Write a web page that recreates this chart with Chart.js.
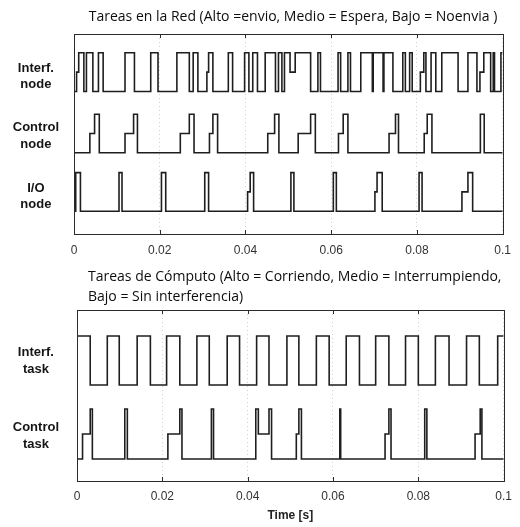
<!DOCTYPE html>
<html>
<head>
<meta charset="utf-8">
<script src="https://cdn.jsdelivr.net/npm/chart.js@4.4.1/dist/chart.umd.min.js"></script>
<style>
  body { margin: 0; background: #fff; width: 520px; height: 527px; position: relative; overflow: hidden; }
  canvas { position: absolute; left: 0; }
  #c1 { top: 0; }
  #c2 { top: 260px; }
  .titulo { position: absolute; font-family: "Open Sans", Lato, sans-serif; font-size: 14px; color: #0d0d0d; line-height: 20px; }
  #t1 { top: 6px; left: 74px; width: 438px; text-align: center; }
  #t2 { top: 266px; left: 88px; width: 430px; }
</style>
</head>
<body>
<canvas id="c1" width="520" height="260"></canvas>
<canvas id="c2" width="520" height="267"></canvas>
<div class="titulo" id="t1">Tareas en la Red (Alto =envio, Medio = Espera, Bajo = Noenvia )</div>
<div class="titulo" id="t2">Tareas de Cómputo (Alto = Corriendo, Medio = Interrumpiendo,<br>Bajo = Sin interferencia)</div>
<script>
// niveles: 0 = bajo, 1 = medio, 2 = alto ; tiempos en segundos (instante del cambio)
const redNombres = [['Interf.', 'node'], ['Control', 'node'], ['I/O', 'node']];
const cpuNombres = [['Interf.', 'task'], ['Control', 'task']];
const xTicks = [0, 0.02, 0.04, 0.06, 0.08, 0.1];

const interfNodeT = [0, 0.0006, 0.0011, 0.0023, 0.0029, 0.0044, 0.0057, 0.0068, 0.0119, 0.0141, 0.0179, 0.0196,
  0.0240, 0.0269, 0.0278, 0.0289, 0.0310, 0.0314, 0.0324, 0.0360, 0.0370, 0.0398, 0.0408, 0.0417, 0.0428,
  0.0446, 0.0470, 0.0477, 0.0485, 0.0491, 0.0504, 0.0516, 0.0552, 0.0569, 0.0575, 0.0616, 0.0622, 0.0639,
  0.0645, 0.0669, 0.0696, 0.0698, 0.0721, 0.0723, 0.0744, 0.0767, 0.0773, 0.0783, 0.0789, 0.0808, 0.0816,
  0.0821, 0.0833, 0.0844, 0.0858, 0.0896, 0.0919, 0.0940, 0.0947, 0.0956, 0.0972, 0.0978, 0.0981, 0.0996];
const interfNodeL = [0, 1, 2, 0, 2, 0, 2, 0, 2, 0, 2, 0,
  2, 0, 2, 0, 1, 2, 0, 2, 0, 2, 0, 2, 0,
  2, 0, 2, 0, 2, 1, 2, 0, 2, 0, 2, 0, 2,
  0, 2, 0, 2, 0, 2, 0, 2, 0, 2, 0, 1, 2,
  0, 2, 0, 2, 0, 2, 0, 1, 2, 0, 2, 0, 2];

const controlNodeT = [0, 0.0037, 0.0048, 0.0059, 0.0119, 0.0139, 0.0148, 0.0248, 0.0269, 0.0280, 0.0316, 0.0324,
  0.0335, 0.0452, 0.0468, 0.0478, 0.0523, 0.0552, 0.0563, 0.0617, 0.0628, 0.0639, 0.0735, 0.0750, 0.0757,
  0.0817, 0.0824, 0.0835, 0.0948, 0.0957];
const controlNodeL = [0, 1, 2, 0, 1, 2, 0, 1, 2, 0, 1, 2,
  0, 1, 2, 0, 1, 2, 0, 1, 2, 0, 1, 2, 0,
  1, 2, 0, 2, 0];

const ioNodeT = [0, 0.0004, 0.0015, 0.0105, 0.0112, 0.0204, 0.0214, 0.0305, 0.0314, 0.0405, 0.0411, 0.0419,
  0.0506, 0.0513, 0.0605, 0.0612, 0.0702, 0.0707, 0.0719, 0.0805, 0.0812, 0.0905, 0.0919, 0.0930];
const ioNodeL = [0, 2, 0, 2, 0, 2, 0, 2, 0, 1, 2, 0,
  2, 0, 2, 0, 1, 2, 0, 2, 0, 1, 2, 0];

const interfTaskT = [0, 0.0031, 0.0071, 0.0099, 0.0141, 0.0172, 0.0210, 0.0241, 0.0281, 0.0310, 0.0352, 0.0381,
  0.0421, 0.0450, 0.0492, 0.0520, 0.0561, 0.0591, 0.0631, 0.0662, 0.0700, 0.0731, 0.0770, 0.0800, 0.0840,
  0.0872, 0.0913, 0.0943, 0.0986];
const interfTaskL = [2, 0, 2, 0, 2, 0, 2, 0, 2, 0, 2, 0,
  2, 0, 2, 0, 2, 0, 2, 0, 2, 0, 2, 0, 2,
  0, 2, 0, 2];

const controlTaskT = [0, 0.0013, 0.0031, 0.0036, 0.0112, 0.0118, 0.0213, 0.0241, 0.0246, 0.0315, 0.0320, 0.0419,
  0.0425, 0.0450, 0.0456, 0.0514, 0.0520, 0.0526, 0.0616, 0.0618, 0.0722, 0.0731, 0.0736, 0.0815, 0.0820,
  0.0933, 0.0945, 0.0949];
const controlTaskL = [0, 1, 2, 0, 2, 0, 1, 2, 0, 2, 0, 2,
  1, 2, 0, 1, 2, 0, 2, 0, 1, 2, 0, 2, 0,
  1, 2, 0];

// pasa tiempos/niveles a puntos, desplazados verticalmente por señal
function señal(tiempos, niveles, base, paso) {
  const pts = tiempos.map((t, i) => ({ x: t, y: base + niveles[i] * paso }));
  pts.push({ x: 0.1, y: pts[pts.length - 1].y });
  return pts;
}

function dataset(pts) {
  return { data: pts, stepped: true, borderColor: '#1e1e1e', borderWidth: 1.6, pointRadius: 0, fill: false };
}

// marco tipo matlab con marcas hacia dentro
const marco = {
  id: 'marco',
  afterDatasetsDraw(chart) {
    const { ctx, chartArea: a, scales: { x } } = chart;
    ctx.save();
    ctx.strokeStyle = '#2a2a2a';
    ctx.lineWidth = 1;
    ctx.strokeRect(Math.round(a.left) + 0.5, Math.round(a.top) + 0.5, Math.round(a.right - a.left), Math.round(a.bottom - a.top));
    ctx.beginPath();
    x.ticks.forEach(t => {
      const px = Math.round(x.getPixelForValue(t.value)) + 0.5;
      ctx.moveTo(px, a.top); ctx.lineTo(px, a.top + 4);
      ctx.moveTo(px, a.bottom); ctx.lineTo(px, a.bottom - 4);
    });
    ctx.stroke();
    ctx.restore();
  }
};

function opciones(cfg) {
  return {
    responsive: false,
    animation: false,
    events: [],
    layout: { padding: { left: 0, right: 8, top: cfg.top, bottom: 0 } },
    plugins: { legend: { display: false }, tooltip: { enabled: false } },
    scales: {
      x: {
        type: 'linear', min: 0, max: 0.1,
        afterBuildTicks: s => { s.ticks = xTicks.map(v => ({ value: v })); },
        afterFit: s => { s.height = cfg.xAlto; },
        grid: { color: '#d0d0d0', drawTicks: false },
        border: { display: false, dash: [1, 3] },
        ticks: { color: '#333', padding: cfg.pad, maxRotation: 0, autoSkip: false,
          callback: v => String(+v.toFixed(2)),
          font: { family: 'Liberation Sans', size: 12 } },
        title: cfg.xTitulo ? { display: true, text: cfg.xTitulo, color: '#222', padding: { top: 7 },
          font: { family: 'Liberation Sans', size: 12, weight: 'bold' } } : { display: false }
      },
      y: {
        min: 0, max: cfg.yMax,
        afterBuildTicks: s => { s.ticks = cfg.centros.map(v => ({ value: v })); },
        afterFit: s => { s.width = cfg.izq; },
        grid: { display: false },
        border: { display: false },
        ticks: { crossAlign: 'center', padding: cfg.izq - 67, color: '#151515',
          callback: (v, i) => cfg.nombres[i],
          font: { family: 'Liberation Sans', size: 13, weight: 'bold', lineHeight: 1.25 } }
      }
    }
  };
}

// panel de red (alto del area: 202 px)
new Chart(document.getElementById('c1'), {
  type: 'line',
  data: {
    datasets: [
      dataset(señal(interfNodeT, interfNodeL, 144, 19.5)),
      dataset(señal(controlNodeT, controlNodeL, 82, 19.5)),
      dataset(señal(ioNodeT, ioNodeL, 23, 19.5))
    ]
  },
  options: opciones({ top: 34, xAlto: 26, pad: 9, yMax: 202, izq: 74,
    centros: [159, 99, 38], nombres: redNombres }),
  plugins: [marco]
});

// panel de computo (alto del area: 171 px)
new Chart(document.getElementById('c2'), {
  type: 'line',
  data: {
    datasets: [
      dataset(señal(interfTaskT, interfTaskL, 96, 24.5)),
      dataset(señal(controlTaskT, controlTaskL, 22, 25))
    ]
  },
  options: opciones({ top: 50, xAlto: 46, pad: 8, yMax: 171, izq: 77,
    centros: [120, 45], nombres: cpuNombres, xTitulo: 'Time [s]' }),
  plugins: [marco]
});
</script>
</body>
</html>
